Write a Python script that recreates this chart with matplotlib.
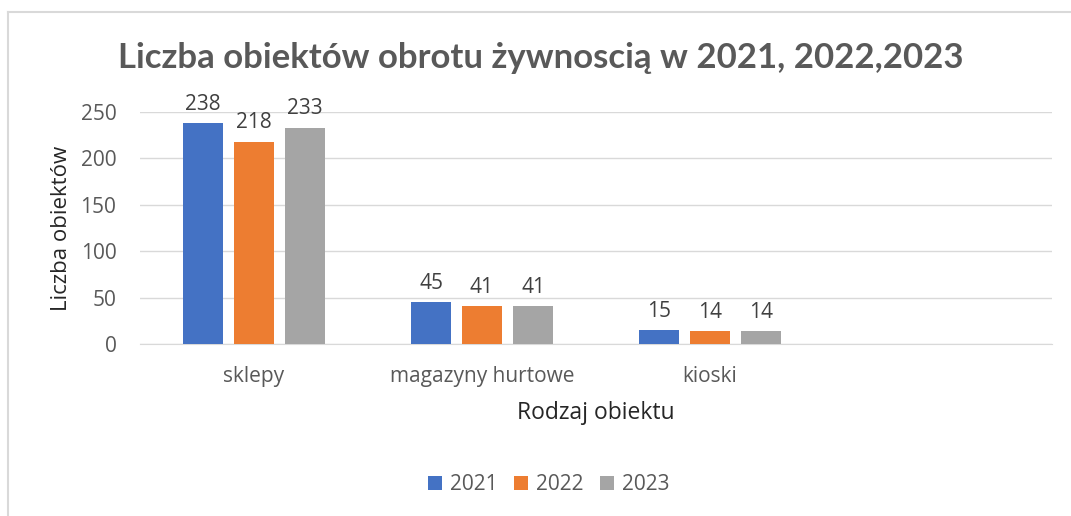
import matplotlib.pyplot as plt
import numpy as np

# data
categories = ['sklepy', 'magazyny hurtowe', 'kioski', '']
years = ['2021', '2022', '2023']
v2021 = [238, 45, 15, np.nan]
v2022 = [218, 41, 14, np.nan]
v2023 = [233, 41, 14, np.nan]
colors = ['#4472C4', '#ED7D31', '#A5A5A5']

plt.rcParams['font.family'] = ['Open Sans', 'DejaVu Sans']
txt = '#595959'

fig = plt.figure(figsize=(10.71, 5.16), dpi=100)
ax = fig.add_axes([140 / 1071, 1 - 344 / 516, 912 / 1071, 232 / 516])

x = np.arange(len(categories))
w = 40 / 228
step = 51 / 228
for i, (vals, lab) in enumerate(zip([v2021, v2022, v2023], years)):
    bars = ax.bar(x + (i - 1) * step, vals, w, color=colors[i], label=lab, zorder=3)
    for xx, v in zip(x + (i - 1) * step, vals):
        if not np.isnan(v):
            ax.text(xx, v + 9, str(v), ha='center', va='bottom', fontsize=15, color='#404040')

ax.set_xlim(-0.5, len(categories) - 0.5)
ax.set_ylim(0, 250)
ax.set_yticks(range(0, 251, 50))
ax.yaxis.grid(True, color='#d9d9d9', linewidth=1, zorder=0)
ax.set_xticks(x)
ax.set_xticklabels(categories)
ax.tick_params(axis='both', length=0, labelsize=15, colors=txt)
ax.tick_params(axis='x', pad=16)
ax.tick_params(axis='y', pad=17)
for s in ['top', 'right', 'left']:
    ax.spines[s].set_visible(False)
ax.spines['bottom'].set_color('#d9d9d9')

ax.set_xlabel('Rodzaj obiektu', fontsize=16.5, color='#262626', labelpad=10)
ax.set_ylabel('Liczba obiektów', fontsize=16, color='#262626', labelpad=6)

fig.text(541 / 1071, 1 - 58 / 516, 'Liczba obiektów obrotu żywnoscią w 2021, 2022,2023',
         ha='center', va='center', fontsize=25, fontweight='bold', color=txt,
         family=['Lato', 'DejaVu Sans'])

leg = fig.legend(loc='center', bbox_to_anchor=(549 / 1071, 1 - 485 / 516), ncol=3,
                 frameon=False, fontsize=15, handlelength=0.65, handleheight=0.65,
                 columnspacing=0.8, handletextpad=0.4)
for t in leg.get_texts():
    t.set_color(txt)

# chart border
fig.add_artist(plt.Line2D([8 / 1071, 8 / 1071], [0, 1 - 12 / 516], transform=fig.transFigure, color='#d9d9d9', lw=1.5))
fig.add_artist(plt.Line2D([8 / 1071, 1], [1 - 12 / 516, 1 - 12 / 516], transform=fig.transFigure, color='#d9d9d9', lw=1.5))

fig.savefig('out.png', dpi=100)
